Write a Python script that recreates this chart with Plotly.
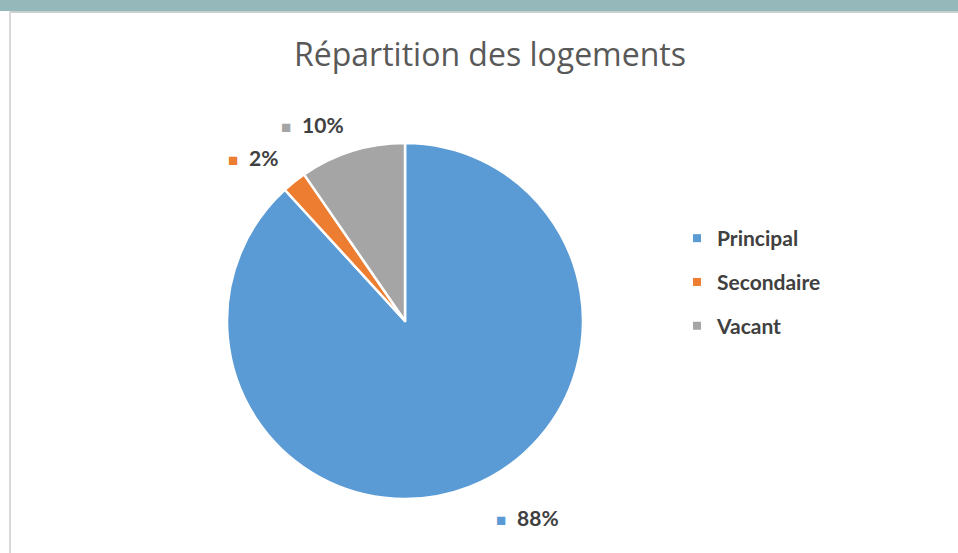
import plotly.graph_objects as go

# ---- data ----
categories = ["Principal", "Secondaire", "Vacant"]
values = [88.2, 2.2, 9.6]
colors = ["#5B9BD5", "#ED7D31", "#A5A5A5"]

# ---- layout helpers ----
W, H = 958, 553
def px(x):
    return x / W
def py(y):
    return (H - y) / H

# label anchor positions (pixels, layout only)
label_pos = [(527, 517), (253, 157), (312, 125)]

fig = go.Figure()
fig.add_trace(go.Pie(
    labels=categories, values=values, sort=False, direction="clockwise",
    rotation=0, marker=dict(colors=colors, line=dict(color="white", width=2.5)),
    textinfo="none", hoverinfo="label+percent", showlegend=False,
    domain=dict(x=[px(227), px(583)], y=[py(499), py(143)]),
))

# legend via dummy traces
for i, (c, col) in enumerate(zip(categories, colors)):
    fig.add_trace(go.Scatter(
        x=[None], y=[None], mode="markers", name=c, legendgroup=c,
        marker=dict(symbol="square", size=8, color=col),
    ))

total = sum(values)
annotations = []
for (lx, ly), v, col in zip(label_pos, values, colors):
    pct = round(v / total * 100)
    annotations.append(dict(
        x=px(lx), y=py(ly), xref="paper", yref="paper", showarrow=False,
        text=f"<span style='color:{col};font-size:17px'>■</span>  <b>{pct}%</b>",
        font=dict(family="Lato, Open Sans, sans-serif", size=21, color="#404040"),
        xanchor="center", yanchor="middle",
    ))

shapes = [
    dict(type="rect", xref="paper", yref="paper", x0=0, x1=1, y0=py(11), y1=1,
         fillcolor="#95B8BA", line=dict(width=0), layer="above"),
    dict(type="rect", xref="paper", yref="paper", x0=px(9), x1=1, y0=py(13), y1=py(11),
         fillcolor="#C9D0D0", line=dict(width=0), layer="above"),
    dict(type="rect", xref="paper", yref="paper", x0=px(9), x1=px(11), y0=0, y1=py(11),
         fillcolor="#D9D9D9", line=dict(width=0), layer="above"),
]

fig.update_layout(
    width=W, height=H, margin=dict(l=0, r=0, t=0, b=0),
    paper_bgcolor="white", plot_bgcolor="white",
    title=dict(text="Répartition des logements", x=px(490), y=py(55),
               xanchor="center", yanchor="middle",
               font=dict(family="Open Sans, Lato, sans-serif", size=32, color="#595959")),
    xaxis=dict(visible=False), yaxis=dict(visible=False),
    legend=dict(x=px(677), y=py(218), xanchor="left", yanchor="top",
                font=dict(family="Lato, Open Sans, sans-serif", size=21, color="#404040", weight="bold"),
                tracegroupgap=13.5, itemwidth=30, bgcolor="rgba(0,0,0,0)"),
    annotations=annotations, shapes=shapes,
)

fig.write_html("out.html", config={"displayModeBar": False},
               post_script="document.body.style.margin='0';")
